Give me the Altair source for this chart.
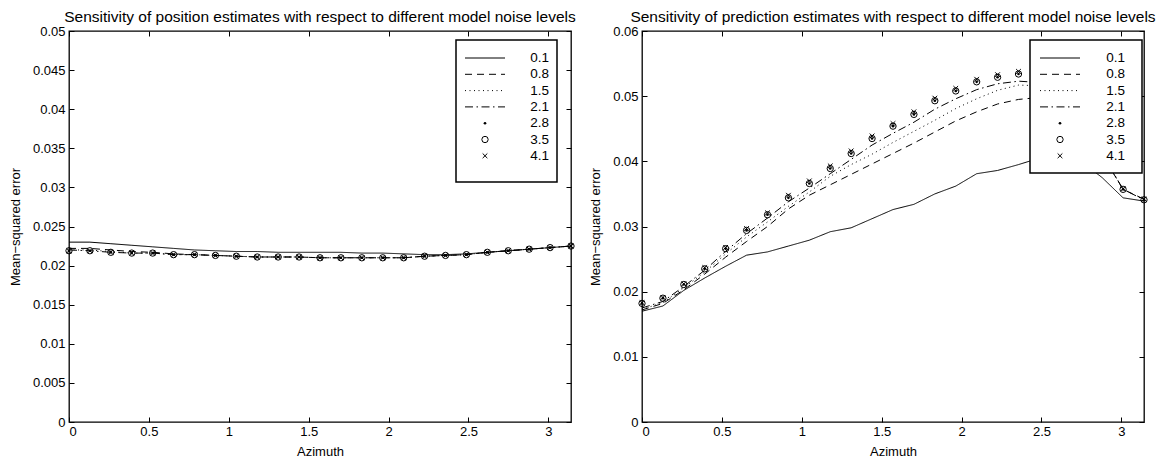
import altair as alt
import pandas as pd

FONT = "Liberation Sans"

# ---------------- data ----------------
AZIMUTH = [0.0, 0.1309, 0.2618, 0.3927, 0.5236, 0.6545, 0.7854, 0.9163, 1.0472,
           1.1781, 1.3090, 1.4399, 1.5708, 1.7017, 1.8326, 1.9635, 2.0944, 2.2253,
           2.3562, 2.4871, 2.6180, 2.7489, 2.8798, 3.0107, 3.1416]

NOISE_LEVELS = ["0.1", "0.8", "1.5", "2.1", "2.8", "3.5", "4.1"]
LINE_LEVELS = ["0.1", "0.8", "1.5", "2.1"]

# position estimates (left panel)
POS_01 = [0.0230, 0.0230, 0.0228, 0.0226, 0.0224, 0.0222, 0.0220, 0.0219, 0.0218, 0.0218,
          0.0217, 0.0217, 0.0217, 0.0217, 0.0216, 0.0216, 0.0215, 0.0214, 0.0214, 0.0215,
          0.0217, 0.0219, 0.0221, 0.0223, 0.0225]
POS_08 = [0.0222, 0.0222, 0.0220, 0.0218, 0.0217, 0.0215, 0.0214, 0.0213, 0.0212, 0.0211,
          0.0211, 0.0211, 0.0210, 0.0210, 0.0210, 0.0210, 0.0210, 0.0212, 0.0213, 0.0214,
          0.0217, 0.0219, 0.0221, 0.0223, 0.0225]
POS_15 = [0.0220, 0.0220, 0.0218, 0.0216, 0.0216, 0.0214, 0.0214, 0.0213, 0.0212, 0.0211,
          0.0211, 0.0211, 0.0210, 0.0210, 0.0210, 0.0210, 0.0210, 0.0212, 0.0213, 0.0214,
          0.0217, 0.0219, 0.0221, 0.0223, 0.0225]
POS_21 = [0.0220, 0.0219, 0.0217, 0.0216, 0.0216, 0.0214, 0.0214, 0.0213, 0.0212, 0.0211,
          0.0211, 0.0211, 0.0210, 0.0210, 0.0210, 0.0210, 0.0210, 0.0212, 0.0213, 0.0214,
          0.0217, 0.0219, 0.0221, 0.0223, 0.0225]
POS_28 = [0.0219, 0.0219, 0.0217, 0.0216, 0.0216, 0.0214, 0.0214, 0.0213, 0.0212, 0.0211,
          0.0211, 0.0211, 0.0210, 0.0210, 0.0210, 0.0210, 0.0210, 0.0212, 0.0213, 0.0214,
          0.0217, 0.0219, 0.0221, 0.0223, 0.0225]
POS_35 = [0.0219, 0.0219, 0.0217, 0.0216, 0.0216, 0.0214, 0.0214, 0.0213, 0.0212, 0.0211,
          0.0211, 0.0211, 0.0210, 0.0210, 0.0210, 0.0210, 0.0210, 0.0212, 0.0213, 0.0214,
          0.0217, 0.0219, 0.0221, 0.0223, 0.0225]
POS_41 = [0.0219, 0.0219, 0.0217, 0.0216, 0.0216, 0.0214, 0.0214, 0.0213, 0.0212, 0.0211,
          0.0211, 0.0211, 0.0210, 0.0210, 0.0210, 0.0210, 0.0210, 0.0212, 0.0213, 0.0214,
          0.0217, 0.0219, 0.0221, 0.0223, 0.0225]

# prediction estimates (right panel)
PRED_01 = [0.0170, 0.0178, 0.0202, 0.0221, 0.0239, 0.0256, 0.0261, 0.0270, 0.0279, 0.0292,
           0.0298, 0.0312, 0.0326, 0.0334, 0.0350, 0.0362, 0.0381, 0.0386, 0.0395, 0.0405,
           0.0410, 0.0400, 0.0375, 0.0344, 0.0339]
PRED_08 = [0.0172, 0.0182, 0.0203, 0.0227, 0.0253, 0.0277, 0.0300, 0.0327, 0.0348, 0.0364,
           0.0380, 0.0396, 0.0412, 0.0428, 0.0445, 0.0462, 0.0476, 0.0488, 0.0495, 0.0498,
           0.0488, 0.0458, 0.0410, 0.0357, 0.0342]
PRED_15 = [0.0173, 0.0183, 0.0206, 0.0230, 0.0258, 0.0284, 0.0307, 0.0331, 0.0353, 0.0377,
           0.0395, 0.0411, 0.0429, 0.0446, 0.0463, 0.0481, 0.0496, 0.0509, 0.0517, 0.0516,
           0.0500, 0.0465, 0.0410, 0.0357, 0.0341]
PRED_21 = [0.0175, 0.0185, 0.0208, 0.0233, 0.0262, 0.0289, 0.0313, 0.0338, 0.0359, 0.0381,
           0.0403, 0.0425, 0.0443, 0.0460, 0.0480, 0.0496, 0.0510, 0.0519, 0.0523, 0.0521,
           0.0505, 0.0468, 0.0412, 0.0357, 0.0341]
PRED_28 = [0.0182, 0.0190, 0.0211, 0.0235, 0.0266, 0.0294, 0.0318, 0.0344, 0.0366, 0.0389,
           0.0412, 0.0435, 0.0454, 0.0472, 0.0493, 0.0508, 0.0522, 0.0529, 0.0534, 0.0532,
           0.0512, 0.0472, 0.0414, 0.0357, 0.0341]
PRED_35 = [0.0182, 0.0190, 0.0211, 0.0235, 0.0266, 0.0294, 0.0318, 0.0344, 0.0366, 0.0389,
           0.0412, 0.0435, 0.0454, 0.0472, 0.0493, 0.0508, 0.0522, 0.0529, 0.0534, 0.0532,
           0.0512, 0.0472, 0.0414, 0.0357, 0.0341]
PRED_41 = [0.0183, 0.0191, 0.0212, 0.0237, 0.0268, 0.0297, 0.0321, 0.0348, 0.0370, 0.0393,
           0.0416, 0.0439, 0.0458, 0.0476, 0.0497, 0.0512, 0.0526, 0.0533, 0.0538, 0.0535,
           0.0514, 0.0473, 0.0415, 0.0358, 0.0342]

X_TICKS = [0, 0.5, 1, 1.5, 2, 2.5, 3]
X_MAX = 3.1416
POS_Y_TICKS = [0, 0.005, 0.01, 0.015, 0.02, 0.025, 0.03, 0.035, 0.04, 0.045, 0.05]
PRED_Y_TICKS = [0, 0.01, 0.02, 0.03, 0.04, 0.05, 0.06]

TITLE_POS = "Sensitivity of position estimates with respect to different model noise levels"
TITLE_PRED = "Sensitivity of prediction estimates with respect to different model noise levels"

# ---------------- styles ----------------
W, H = 502, 391
DASHES = [[1, 0], [7, 5], [1, 3.5], [8, 3.5, 1.5, 3.5]]
TICK_FS = 13


def axis_common():
    return dict(offset=-5, tickSize=5, tickColor="black", tickWidth=1, domain=False,
                grid=False, labelFont=FONT, labelFontSize=TICK_FS, labelColor="black",
                titleFont=FONT, titleFontSize=13, titleFontWeight="normal",
                titleColor="black")


def dot_mark():
    return alt.MarkDef(type="point", shape="circle", filled=True, size=7,
                       color="black", opacity=1)


def circle_mark():
    return alt.MarkDef(type="point", shape="circle", filled=False, size=40,
                       color="black", strokeWidth=1, opacity=1)


def cross_mark():
    return alt.MarkDef(type="point", shape="M-1,-1L1,1M-1,1L1,-1", filled=False,
                       size=22, color="black", strokeWidth=1, opacity=1)


def build_panel(title, line_series, dots, circs, crosses, ymax, yticks,
                box, sample_x, label_x):
    rows = []
    for lev, vals in zip(LINE_LEVELS, line_series):
        for a, v in zip(AZIMUTH, vals):
            rows.append({"az": a, "mse": v, "noise": lev})
    ldf = pd.DataFrame(rows)
    mdf = pd.DataFrame({"az": AZIMUTH, "dot": dots, "circ": circs, "cross": crosses})

    xs = alt.Scale(domain=[0, X_MAX], nice=False, zero=False)
    ys = alt.Scale(domain=[0, ymax], nice=False, zero=False)

    x_bottom = alt.Axis(values=X_TICKS, format="~g", title="Azimuth", labelPadding=3,
                        titlePadding=7, **axis_common())
    y_left = alt.Axis(values=yticks, format="~g", title="Mean\u2212squared error",
                      labelPadding=4, titlePadding=10, **axis_common())
    x_top = alt.Axis(orient="top", values=X_TICKS, labels=False, title=None, **axis_common())
    y_right = alt.Axis(orient="right", values=yticks, labels=False, title=None, **axis_common())

    lines = alt.Chart(ldf).mark_line(color="black", strokeWidth=1).encode(
        x=alt.X("az:Q", scale=xs, axis=x_bottom),
        y=alt.Y("mse:Q", scale=ys, axis=y_left),
        strokeDash=alt.StrokeDash("noise:N", scale=alt.Scale(domain=LINE_LEVELS, range=DASHES),
                                  legend=None),
    )
    frame_axes = alt.Chart(ldf).mark_line(opacity=0).encode(
        x=alt.X("az:Q", scale=xs, axis=x_top),
        y=alt.Y("mse:Q", scale=ys, axis=y_right),
        detail="noise:N",
    )
    dot_layer = alt.Chart(mdf, mark=dot_mark()).encode(
        x=alt.X("az:Q", scale=xs, axis=None), y=alt.Y("dot:Q", scale=ys, axis=None))
    circ_layer = alt.Chart(mdf, mark=circle_mark()).encode(
        x=alt.X("az:Q", scale=xs, axis=None), y=alt.Y("circ:Q", scale=ys, axis=None))
    cross_layer = alt.Chart(mdf, mark=cross_mark()).encode(
        x=alt.X("az:Q", scale=xs, axis=None), y=alt.Y("cross:Q", scale=ys, axis=None))

    one = pd.DataFrame({"k": [0]})
    bx0, bx1, by0, by1 = box
    box_layer = alt.Chart(one).mark_rect(fill="white", stroke="black", strokeWidth=1.5).encode(
        x=alt.value(bx0), x2=alt.value(bx1), y=alt.value(by0), y2=alt.value(by1))

    entries = []
    sx0, sx1 = sample_x
    cx = (sx0 + sx1) / 2
    for i, lab in enumerate(NOISE_LEVELS):
        ry = 27 + 16.3 * i
        if i < 4:
            entries.append(alt.Chart(one).mark_rule(color="black", strokeWidth=1,
                                                    strokeDash=DASHES[i]).encode(
                x=alt.value(sx0), x2=alt.value(sx1), y=alt.value(ry)))
        else:
            mk = [dot_mark(), circle_mark(), cross_mark()][i - 4]
            entries.append(alt.Chart(one, mark=mk).encode(x=alt.value(cx), y=alt.value(ry)))
        entries.append(alt.Chart(pd.DataFrame({"label": [lab]})).mark_text(
            align="right", baseline="middle", font=FONT, fontSize=13.5, color="black").encode(
            x=alt.value(label_x), y=alt.value(ry), text="label:N"))

    return alt.layer(lines, frame_axes, dot_layer, circ_layer, cross_layer, box_layer,
                     *entries).resolve_axis(x="independent", y="independent").properties(
        width=W, height=H,
        title=alt.TitleParams(text=title, font=FONT, fontSize=15.5, fontWeight="normal",
                              color="black", offset=0, anchor="middle"))


left = build_panel(TITLE_POS, [POS_01, POS_08, POS_15, POS_21], POS_28, POS_35, POS_41,
                   0.05, POS_Y_TICKS, (387, 488, 9, 151), (396, 436), 480)
right = build_panel(TITLE_PRED, [PRED_01, PRED_08, PRED_15, PRED_21], PRED_28, PRED_35,
                    PRED_41, 0.06, PRED_Y_TICKS, (388, 500, 9, 142), (398, 438), 483)

chart = alt.hconcat(left, right, spacing=71, bounds="flush").properties(
    padding={"left": 0, "top": 0, "right": 2, "bottom": 0}
).configure(font=FONT).configure_view(stroke="black", strokeWidth=1.3)

chart.save("out.html", embed_options={"renderer": "svg", "actions": False})
